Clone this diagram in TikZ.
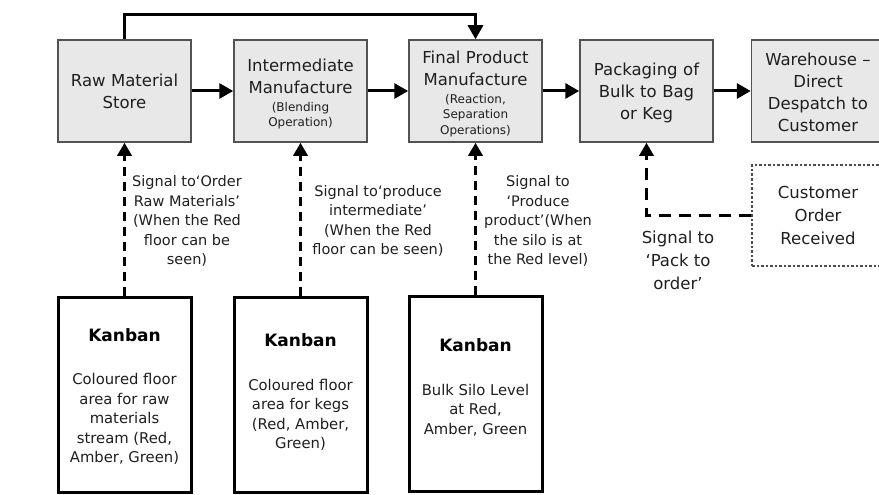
\documentclass[tikz,border=0pt]{standalone}
\usepackage{fontspec}
\setmainfont{DejaVu Sans}
\usetikzlibrary{arrows.meta}

% smaller parenthetical lines inside a process box
\newcommand\subnote[1]{\par\vspace{2pt}{\fontsize{12}{15.5}\selectfont #1\par}}

\begin{document}
\begin{tikzpicture}[x=1pt,y=-1pt,
  procbox/.style={draw=black!68, line width=1.5pt, fill=black!9,
    minimum width=133pt, minimum height=102pt, inner sep=0pt},
  proctext/.style={inner sep=0pt, text width=130pt, align=center, text=black!88,
    font=\fontsize{16.5}{22}\selectfont},
  kanbox/.style={draw=black, line width=3pt, fill=white,
    minimum width=133pt, minimum height=195pt, inner sep=0pt},
  kantitle/.style={inner sep=0pt, font=\bfseries\fontsize{17}{22}\selectfont},
  kanbody/.style={inner sep=0pt, align=center, text=black!88,
    font=\fontsize{14.8}{19.5}\selectfont},
  note/.style={inner sep=0pt, align=center, text=black!88,
    font=\fontsize{14.5}{19.5}\selectfont},
  bignote/.style={inner sep=0pt, align=center, text=black!88,
    font=\fontsize{16.5}{23}\selectfont},
  orderbox/.style={draw=black!70, line width=1.4pt, dash pattern=on 2.5pt off 2pt,
    minimum width=132pt, minimum height=101pt, inner sep=0pt, align=center,
    text=black!88, font=\fontsize{16.5}{23}\selectfont},
  flow/.style={line width=3pt, -{Triangle[length=14pt,width=15pt]}},
  signal/.style={line width=3.3pt, dash pattern=on 9pt off 6pt,
    -{Triangle[length=13pt,width=14pt]}},
  packsignal/.style={line width=3.3pt, dash pattern=on 12pt off 8pt,
    -{Triangle[length=13pt,width=14pt]}},
]
\useasboundingbox (0,0) rectangle (879,495);

% process chain
\node[procbox] (raw)   at (124.5,91) {};
\node[procbox] (inter) at (300.5,91) {};
\node[procbox] (final) at (475.5,91) {};
\node[procbox] (pack)  at (646.5,91) {};
\node[procbox] (ware)  at (818,91)   {};

\node[proctext] (rawT)   at (124.5,91.5) {Raw Material\\Store};
\node[proctext] (interT) at (300.5,94)   {Intermediate\\Manufacture\subnote{(Blending\\Operation)}};
\node[proctext] (finalT) at (475.5,94)   {Final Product\\Manufacture\subnote{(Reaction,\\Separation\\Operations)}};
\node[proctext] (packT)  at (646.5,92.5) {Packaging of\\Bulk to Bag\\or Keg};
\node[proctext] (wareT)  at (818,92)     {Warehouse --\\Direct\\Despatch to\\Customer};

\draw[flow] (raw) -- (inter);
\draw[flow] (inter) -- (final);
\draw[flow] (final) -- (pack);
\draw[flow] (pack) -- (ware);
\draw[flow] (raw.north) -- ++(0,-25) -| (final.north);

% kanban cards
\node[kanbox] (k1) at (124.5,394.5) {};
\node[kanbox] (k2) at (300.5,395) {};
\node[kanbox] (k3) at (475.5,394) {};

\node[kantitle] (k1t) at (124.5,335) {Kanban};
\node[kanbody]  (k1b) at (124.5,419) {Coloured floor\\area for raw\\materials\\stream (Red,\\Amber, Green)};
\node[kantitle] (k2t) at (300.5,340) {Kanban};
\node[kanbody]  (k2b) at (300.5,415) {Coloured floor\\area for kegs\\(Red, Amber,\\Green)};
\node[kantitle] (k3t) at (475.5,345) {Kanban};
\node[kanbody]  (k3b) at (475.5,410) {Bulk Silo Level\\at Red,\\Amber, Green};

% customer order
\node[orderbox] (cust) at (818,215.5) {Customer\\Order\\Received};

% pull signals
\draw[signal] (k1) -- (raw);
\draw[signal] (k2) -- (inter);
\draw[signal] (k3) -- (final);
\draw[packsignal] (cust.west) -| (pack.south);

\node[note] (s1) at (187,221) {Signal to‘Order\\Raw Materials’\\(When the Red\\floor can be\\seen)};
\node[note] (s2) at (378,221) {Signal to‘produce\\intermediate’\\(When the Red\\floor can be seen)};
\node[note] (s3) at (538,221) {Signal to\\‘Produce\\product’(When\\the silo is at\\the Red level)};
\node[bignote] (s4) at (678,260) {Signal to\\‘Pack to\\order’};
\end{tikzpicture}
\end{document}
